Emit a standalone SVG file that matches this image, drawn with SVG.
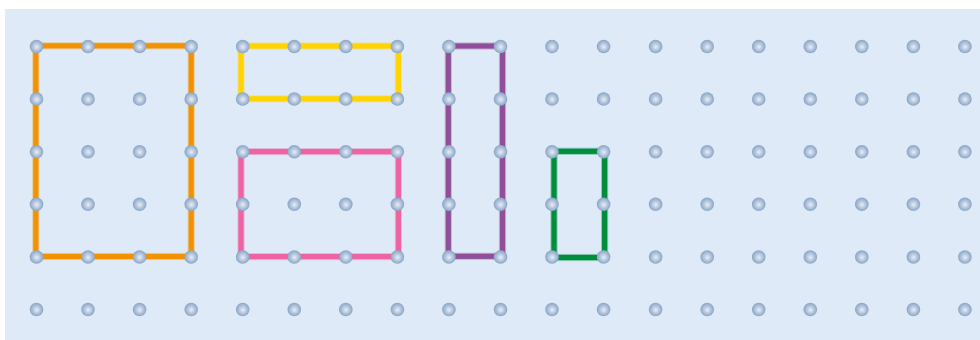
<svg xmlns="http://www.w3.org/2000/svg" xmlns:xlink="http://www.w3.org/1999/xlink" width="980" height="340" viewBox="0 0 980 340">
<defs>
<radialGradient id="peg" cx="50%" cy="50%" r="52%" fx="52%" fy="54%">
<stop offset="0" stop-color="#e8eef6"/>
<stop offset="0.5" stop-color="#b4c7de"/>
<stop offset="1" stop-color="#86a1c2"/>
</radialGradient>
<circle id="p" r="6.8" fill="url(#peg)"/>
<g id="row">
<use xlink:href="#p" x="36.5"/><use xlink:href="#p" x="88"/><use xlink:href="#p" x="139.6"/><use xlink:href="#p" x="191.2"/>
<use xlink:href="#p" x="242.7"/><use xlink:href="#p" x="294.3"/><use xlink:href="#p" x="345.8"/><use xlink:href="#p" x="397.4"/>
<use xlink:href="#p" x="448.9"/><use xlink:href="#p" x="500.5"/><use xlink:href="#p" x="552"/><use xlink:href="#p" x="603.6"/>
<use xlink:href="#p" x="655.6"/><use xlink:href="#p" x="707.2"/><use xlink:href="#p" x="758.7"/><use xlink:href="#p" x="810.3"/>
<use xlink:href="#p" x="861.8"/><use xlink:href="#p" x="913.4"/><use xlink:href="#p" x="964.9"/>
</g>
</defs>
<style>
.band{fill:none;stroke-linejoin:miter;stroke-width:5.2}
.halo{fill:none;stroke-width:7.2;stroke-opacity:0.35}
</style>
<rect x="5" y="9" width="975" height="331" fill="#deeaf7"/>
<g id="bands">
<g id="orange">
<rect class="halo" x="35.8" y="45.8" width="155.4" height="210.7" stroke="#f39200"/>
<rect class="band" x="35.8" y="45.8" width="155.4" height="210.7" stroke="#f39200"/>
</g>
<g id="yellow">
<rect class="halo" x="241" y="46" width="157.4" height="52.8" stroke="#ffd400"/>
<rect class="band" x="241" y="46" width="157.4" height="52.8" stroke="#ffd400"/>
</g>
<g id="pink">
<rect class="halo" x="241" y="151.6" width="157.4" height="105" stroke="#ee63a2"/>
<rect class="band" x="241" y="151.6" width="157.4" height="105" stroke="#ee63a2"/>
</g>
<g id="purple">
<rect class="halo" x="448.3" y="46" width="54.2" height="210.3" stroke="#914f9b"/>
<rect class="band" x="448.3" y="46" width="54.2" height="210.3" stroke="#914f9b"/>
</g>
<g id="green">
<rect class="halo" x="554" y="151.3" width="50.6" height="106.2" stroke="#008e3c"/>
<rect class="band" x="554" y="151.3" width="50.6" height="106.2" stroke="#008e3c"/>
</g>
</g>
<g id="pegs">
<use xlink:href="#row" y="46.5"/>
<use xlink:href="#row" y="99"/>
<use xlink:href="#row" y="151.7"/>
<use xlink:href="#row" y="204.3"/>
<use xlink:href="#row" y="257"/>
<use xlink:href="#row" y="309.5"/>
</g>
</svg>
